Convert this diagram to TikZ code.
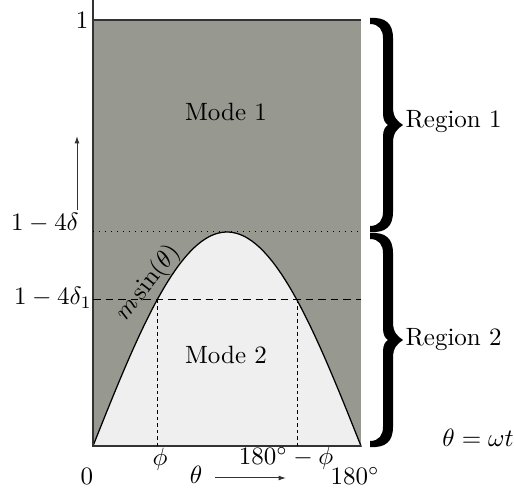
\documentclass[tikz,border=0pt]{standalone}
\usetikzlibrary{arrows.meta}
\definecolor{modeone}{RGB}{151,152,143}
\definecolor{modetwo}{RGB}{239,239,239}
\tikzset{
  axisline/.style={draw=black!80,line width=0.6pt},
  guide/.style={line width=0.4pt},
  bracefill/.style={fill=black},
  lbl/.style={inner sep=0pt,font=\normalsize},
  arr/.style={-{Latex[length=3pt,width=2pt]},line width=0.4pt,black!80}
}
\begin{document}
\begin{tikzpicture}[x=0.4pt,y=-0.4pt]
\useasboundingbox (0,0) rectangle (514,491);
% regions
\fill[modeone] (93,20) rectangle (361,446);
\filldraw[fill=modetwo,draw=black,line width=0.5pt] (93,446) -- plot[domain=0:180,samples=80] ({93+1.488889*\x},{446-214*sin(\x)}) -- cycle;
% axes
\draw[axisline] (93,0) -- (93,446) -- (361,446);
\draw[axisline] (93,20) -- (361,20);
% guide lines
\draw[guide,dotted] (93,232) -- (363,232);
\draw[guide,dash pattern=on 3pt off 2pt] (93,300) -- (361,300);
\coordinate (p1) at (157,300);
\coordinate (p1b) at (157,446);
\coordinate (p2) at (297,300);
\coordinate (p2b) at (297,446);
\draw[guide,dash pattern=on 1.4pt off 1.2pt] (p1) -- (p1b);
\draw[guide,dash pattern=on 1.4pt off 1.2pt] (p2) -- (p2b);
% braces
\path[bracefill] (370,18) .. controls (385,17) and (393,23) .. (393,38)
  -- (393,107) .. controls (393,117) and (397,121) .. (403,125)
  .. controls (397,129) and (393,133) .. (393,143)
  -- (393,212) .. controls (393,227) and (385,233) .. (370,232)
  -- (370,226) .. controls (379,226) and (383,220) .. (383,212)
  -- (383,137) .. controls (383,130) and (385,127) .. (388,125)
  .. controls (385,123) and (383,120) .. (383,113)
  -- (383,38) .. controls (383,30) and (379,24) .. (370,24) -- cycle;
\path[bracefill] (370,233) .. controls (385,232) and (393,238) .. (393,253)
  -- (393,322) .. controls (393,332) and (397,336) .. (403,340)
  .. controls (397,344) and (393,348) .. (393,358)
  -- (393,427) .. controls (393,442) and (385,448) .. (370,447)
  -- (370,441) .. controls (379,441) and (383,435) .. (383,427)
  -- (383,352) .. controls (383,345) and (385,342) .. (388,340)
  .. controls (385,338) and (383,335) .. (383,328)
  -- (383,253) .. controls (383,245) and (379,239) .. (370,239) -- cycle;
% labels
\node[lbl,anchor=east] (one) at (89,20) {$1$};
\node[lbl] (d) at (45,223) {$1-4\delta$};
\node[lbl] (d1) at (53,298) {$1-4\delta_1$};
\coordinate (ua) at (77,210);
\coordinate (ub) at (77,136);
\draw[arr] (ua) -- (ub);
\node[lbl,rotate=52] (msin) at (148,283) {$m\sin(\theta)$};
\node[lbl] (m1) at (226,112) {Mode 1};
\node[lbl] (m2) at (226,355) {Mode 2};
\node[lbl] (phi) at (160,459) {$\phi$};
\node[lbl] (phi2) at (286,458) {$180^\circ-\phi$};
\node[lbl] (zero) at (87,476) {$0$};
\node[lbl] (th) at (196,475) {$\theta$};
\coordinate (ta) at (215,478);
\coordinate (tb) at (286,478);
\draw[arr] (ta) -- (tb);
\node[lbl] (end) at (355,476) {$180^\circ$};
\node[lbl] (omega) at (478,438) {$\theta=\omega t$};
\node[lbl,anchor=west] (r1) at (405,122) {Region 1};
\node[lbl,anchor=west] (r2) at (405,340) {Region 2};
\end{tikzpicture}
\end{document}
